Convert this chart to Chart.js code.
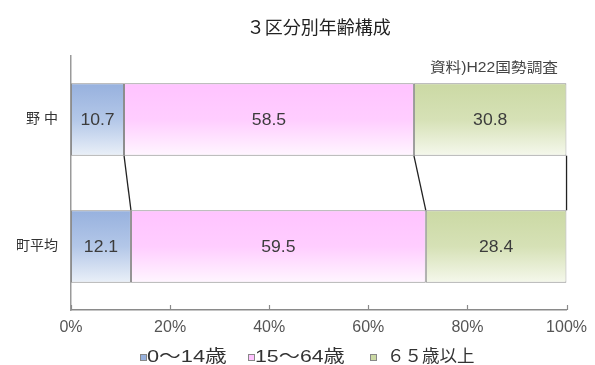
<!DOCTYPE html>
<html>
<head>
<meta charset="utf-8">
<script src="https://cdn.jsdelivr.net/npm/chart.js@4.4.1/dist/chart.umd.min.js"></script>
<style>
html,body{margin:0;padding:0;background:#fff;}
#wrap{width:595px;height:365px;position:relative;}
</style>
</head>
<body>
<div id="wrap"><canvas id="c" width="595" height="365"></canvas></div>
<script>
const categories = ['野 中', '町平均'];
const seriesNames = ['0～14歳', '15～64歳', '６５歳以上'];
const age0to14 = [10.7, 12.1];
const age15to64 = [58.5, 59.5];
const age65plus = [30.8, 28.4];
const xTickValues = [0, 20, 40, 60, 80, 100];
const titleText = '３区分別年齢構成';
const sourceText = '資料)H22国勢調査';

const FONT = "'Liberation Sans', 'Noto Sans CJK JP', sans-serif";
const palettes = [
  ['#97b1de', '#b3c7e8', '#eaf0f8'],
  ['#ffc3ff', '#ffcdff', '#fff6ff'],
  ['#cbd9a4', '#d6e1b6', '#f5f8ec']
];
const BAR_PCT = 0.57;

function gradFor(dsIndex) {
  return function(ctx) {
    const chart = ctx.chart;
    const y = chart.scales.y;
    const p = palettes[dsIndex];
    if (!y || !chart.chartArea) return p[1];
    const center = y.getPixelForValue(ctx.dataIndex);
    const half = (y.height / categories.length) * BAR_PCT / 2;
    const g = chart.ctx.createLinearGradient(0, center - half, 0, center + half);
    g.addColorStop(0, p[0]);
    g.addColorStop(0.5, p[1]);
    g.addColorStop(1, p[2]);
    return g;
  };
}

function stretchedText(c, text, x, y, sx) {
  c.save();
  c.translate(x, y);
  c.scale(sx, 1);
  c.fillText(text, 0, 0);
  c.restore();
}

const extras = {
  id: 'extras',
  afterDatasetsDraw(chart) {
    const c = chart.ctx;
    const x = chart.scales.x;
    const area = chart.chartArea;
    c.save();
    c.strokeStyle = '#222';
    c.lineWidth = 1.3;
    chart.data.datasets.forEach((ds, di) => {
      const meta = chart.getDatasetMeta(di);
      const a = meta.data[0], b = meta.data[1];
      c.beginPath();
      c.moveTo(a.x, a.y + a.height / 2);
      c.lineTo(b.x, b.y - b.height / 2);
      c.stroke();
    });
    c.restore();
    c.save();
    c.fillStyle = '#3c3c3c';
    c.font = '16px ' + FONT;
    c.textAlign = 'center';
    c.textBaseline = 'middle';
    chart.data.datasets.forEach((ds, di) => {
      const meta = chart.getDatasetMeta(di);
      meta.data.forEach((el, i) => {
        stretchedText(c, ds.data[i].toFixed(1), (el.base + el.x) / 2, el.y + 1, 1.1);
      });
    });
    c.restore();
    c.save();
    c.strokeStyle = '#8a8a8a';
    c.lineWidth = 1.2;
    xTickValues.forEach(v => {
      const px = Math.round(x.getPixelForValue(v)) + 0.5;
      c.beginPath();
      c.moveTo(px, area.bottom);
      c.lineTo(px, area.bottom - 5);
      c.stroke();
    });
    c.restore();
  },
  afterDraw(chart) {
    const c = chart.ctx;
    const area = chart.chartArea;
    c.save();
    c.fillStyle = '#222';
    c.font = '18px ' + FONT;
    c.textAlign = 'center';
    c.textBaseline = 'middle';
    c.fillText(titleText, (area.left + area.right) / 2, 29);
    c.fillStyle = '#444';
    c.font = '14px ' + FONT;
    c.textAlign = 'right';
    stretchedText(c, sourceText, 558, 68, 1.12);
    const lx = [140, 248, 370];
    const tx = [147, 255, 387];
    const sx = [1.28, 1.25, 1.03];
    c.font = '17px ' + FONT;
    c.textAlign = 'left';
    seriesNames.forEach((n, i) => {
      const p = palettes[i];
      c.fillStyle = p[0];
      c.fillRect(lx[i], 354, 6, 6);
      c.strokeStyle = '#888';
      c.lineWidth = 1;
      c.strokeRect(lx[i] + 0.5, 354.5, 6, 6);
      c.fillStyle = '#333';
      stretchedText(c, n, tx[i], 357, sx[i]);
    });
    c.restore();
  }
};

const datasetsSrc = [age0to14, age15to64, age65plus];
new Chart(document.getElementById('c'), {
  type: 'bar',
  data: {
    labels: categories,
    datasets: datasetsSrc.map((d, i) => ({
      label: seriesNames[i],
      data: d,
      backgroundColor: gradFor(i),
      borderColor: '#8c8c8c',
      borderWidth: 1,
      borderSkipped: false,
      categoryPercentage: 1,
      barPercentage: BAR_PCT
    }))
  },
  options: {
    indexAxis: 'y',
    responsive: false,
    animation: false,
    devicePixelRatio: 1,
    layout: { padding: { top: 56, right: 27, left: 0, bottom: 0 } },
    plugins: { legend: { display: false }, title: { display: false }, tooltip: { enabled: false } },
    scales: {
      x: {
        stacked: true,
        min: 0, max: 100,
        afterFit(s) { s.height = 55; },
        afterBuildTicks(s) { s.ticks = xTickValues.map(v => ({ value: v })); },
        grid: { display: false, drawTicks: false },
        border: { display: true, color: '#8a8a8a', width: 1.5 },
        ticks: { color: '#555', font: { size: 16, family: FONT }, padding: 8, callback: v => v + '%', maxRotation: 0 }
      },
      y: {
        stacked: true,
        afterFit(s) { s.width = 71; },
        grid: { display: false, drawTicks: false },
        border: { display: true, color: '#9a9a9a', width: 1.5 },
        ticks: { color: '#333', font: { size: 14, family: FONT }, padding: 13 }
      }
    }
  },
  plugins: [extras]
});
</script>
</body>
</html>
